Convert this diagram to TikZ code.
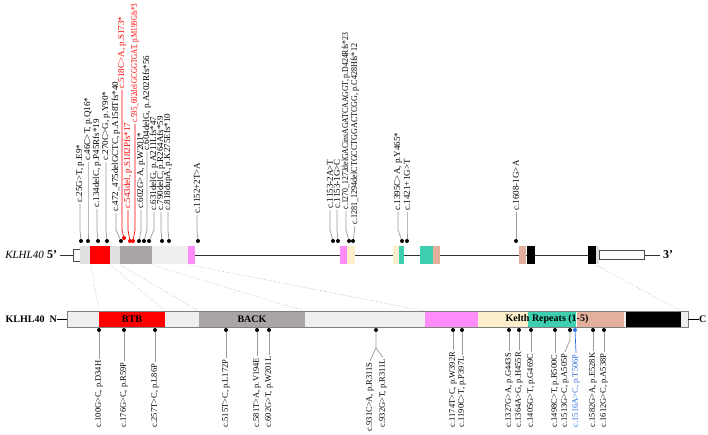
\documentclass[tikz,border=0pt]{standalone}
\usepackage{fontspec}
\setmainfont{Liberation Serif}
\definecolor{backg}{HTML}{A9A5A4}
\definecolor{lightg}{HTML}{EFEFEF}
\definecolor{midg}{HTML}{E0E0E0}
\definecolor{pinkc}{HTML}{FF8CF8}
\definecolor{creamc}{HTML}{FDEFCB}
\definecolor{tealc}{HTML}{3ECFAE}
\definecolor{salmc}{HTML}{E2B09C}
\definecolor{bluec}{HTML}{2F6FE0}
\definecolor{leadg}{HTML}{9A9A9A}
\begin{document}
\begin{tikzpicture}[x=1pt,y=-1pt,
  lab/.style={font=\fontsize{9}{10}\selectfont, rotate=90, anchor=west, inner sep=1.5pt},
  blab/.style={font=\fontsize{8.5}{9}\selectfont, rotate=90, anchor=west, inner sep=1.5pt},
  mdot/.style={circle, fill=black, inner sep=0pt, minimum size=4pt},
  rdot/.style={circle, fill=red, inner sep=0pt, minimum size=4pt},
  lead/.style={draw=leadg, line width=0.7pt},
  rlead/.style={draw=red, line width=0.7pt},
  map/.style={draw=gray!70, dotted, line width=0.6pt}]
\useasboundingbox (0,0) rectangle (708,435);

% ---------- gene structure ----------
\draw[black!80, line width=0.8pt] (60,255) -- (660,255);
\draw[fill=white, draw=black!70] (73,249) rectangle (80,261);
\fill[midg] (80,246) rectangle (90,264);
\fill[red] (90,246) rectangle (110,264);
\fill[midg] (110,246) rectangle (120,264);
\fill[backg] (120,246) rectangle (152,264);
\fill[lightg] (152,246) rectangle (188,264);
\fill[pinkc] (188,246) rectangle (195,264);
\fill[pinkc] (340,246) rectangle (347,264);
\fill[creamc] (347,246) rectangle (355,264);
\fill[creamc] (393,246) rectangle (399,264);
\fill[tealc] (399,246) rectangle (404,264);
\fill[tealc] (420,246) rectangle (433,264);
\fill[salmc] (433,246) rectangle (440,264);
\fill[salmc] (519,246) rectangle (526,264);
\fill[black] (527,246) rectangle (535,264);
\fill[black] (588,246) rectangle (596,264);
\fill[midg] (596,246) rectangle (599,264);
\draw[fill=white, draw=black!70] (599,250) rectangle (644,259);
\node[font=\fontsize{11}{12}\selectfont\itshape, anchor=east, inner sep=0pt] (gname) at (44,255) {KLHL40};
\node[font=\fontsize{12}{13}\selectfont\bfseries, anchor=west, inner sep=0pt] (g5) at (47,255) {5’};
\node[font=\fontsize{12}{13}\selectfont\bfseries, anchor=west, inner sep=0pt] (g3) at (663,255) {3’};

% ---------- protein ----------
\fill[lightg] (67,311) rectangle (688,327);
\fill[red] (99,311) rectangle (165,327);
\fill[backg] (199,311) rectangle (305,327);
\fill[pinkc] (425,311) rectangle (478,327);
\fill[creamc] (478,311) rectangle (528,327);
\fill[tealc] (528,311) rectangle (576,327);
\fill[white] (576,311) rectangle (577,327);
\fill[salmc] (577,311) rectangle (624,327);
\fill[black] (626,311) rectangle (681,327);
\draw[gray, line width=0.8pt] (67,311) rectangle (688,327);
\node[font=\fontsize{10}{12}\selectfont\bfseries] (dBTB) at (132,319.5) {BTB};
\node[font=\fontsize{10}{12}\selectfont\bfseries] (dBACK) at (252,319.5) {BACK};
\node[font=\fontsize{10}{12}\selectfont\bfseries] (dKR) at (547,319.5) {Kelth Repeats (1-5)};
\node[font=\fontsize{10}{12}\selectfont\bfseries, anchor=east, inner sep=0pt] (pname) at (57,319) {KLHL40\hspace{5pt}N};
\node[font=\fontsize{10}{12}\selectfont\bfseries, anchor=west, inner sep=0pt] (pC) at (699,319) {C};
\draw[black, line width=0.8pt] (pname.east) -- (67,319);
\draw[black, line width=0.8pt] (688,319) -- (pC.west);

% ---------- mapping lines ----------
\draw[map] (91,265) -- (99,311);
\draw[map] (110,265) -- (165,311);
\draw[map] (120,265) -- (199,311);
\draw[map] (152,265) -- (305,311);
\draw[map] (190,265) -- (425,311);
\draw[map] (596,265) -- (681,311);

% ---------- top variants ----------
\coordinate (ky) at (0,230);
\node[mdot] (t1d) at (81,241) {};  \node[lab] (t1) at (80,204) {c.25G>T, p.E9*};
\node[mdot] (t2d) at (88,241) {};  \node[lab] (t2) at (88,162) {c.46C>T, p.Q16*};
\node[mdot] (t3d) at (98,241) {};  \node[lab] (t3) at (97,209) {c.134delC, p.P45Rfs*19};
\node[mdot] (t4d) at (107,241) {}; \node[lab] (t4) at (106,162) {c.270C>G, p.Y90*};
\node[mdot] (t5d) at (121,241) {}; \node[lab] (t5) at (116,213) {c.472\_475delGCTC, p.A158Tfs*40};
\node[rdot] (t6d) at (124,238) {}; \node[lab, text=red] (t6) at (122,90) {c.518C>A, p.S173*};
\node[rdot] (t7d) at (130,241) {}; \node[lab, text=red] (t7) at (128,210) {c.543del, p.S182Pfs*17};
\node[rdot] (t8d) at (133,241) {}; \node[lab, text=red] (t8) at (135,124) {\scalebox{0.77}[1]{c.595\_602del GCGGTGAT, p.M199Gfs*3}};
\node[mdot] (t9d) at (139,241) {}; \node[lab] (t9) at (141,210) {c.602G>A, p.W201*};
\node[mdot] (t10d) at (144,241) {}; \node[lab] (t10) at (147,152) {c.604delG, p.A202Rfs*56};
\node[mdot] (t11d) at (149,241) {}; \node[lab] (t11) at (154,212) {c.631delG, p.A211Lfs*47};
\node[mdot] (t12d) at (162,241) {}; \node[lab] (t12) at (161,212) {c.790delC, p.R264Afs*59};
\node[mdot] (t13d) at (169,241) {}; \node[lab] (t13) at (168,212) {c.818dupA, p.K275Efs*10};
\node[mdot] (t14d) at (198,241) {}; \node[lab] (t14) at (197,215) {c.1152+2T>A};
\node[mdot] (t15d) at (333,241) {}; \node[lab] (t15) at (330,210) {c.1153-2A>T};
\node[mdot] (t16d) at (338,241) {}; \node[lab] (t16) at (337,210) {c.1153-1G>C};
\node[mdot] (t17d) at (349,241) {}; \node[lab] (t17) at (346,211) {\scalebox{0.86}[1]{c.1270\_1272delGACinsAGATCAAGGT, p.D424Rfs*23}};
\node[mdot] (t18d) at (353,241) {}; \node[lab] (t18) at (355,226) {\scalebox{0.9}[1]{c.1281\_1294delCTGCCTGGACTCGG, p.C428Hfs*12}};
\node[mdot] (t19d) at (402,241) {}; \node[lab] (t19) at (398,212) {c.1395C>A, p.Y465*};
\node[mdot] (t20d) at (407,241) {}; \node[lab] (t20) at (407,212) {c.1421+1G>T};
\node[mdot] (t21d) at (516,241) {}; \node[lab] (t21) at (516,212) {c.1608-1G>A};

\foreach \i in {1,2,3,4,5,9,10,11,12,13,14,15,16,17,19,20,21}
  \draw[lead] (t\i.west) -- (t\i.west |- ky) -- (t\i d);
\draw[lead] (t18.west) -- (t18d);
\foreach \i in {6,7,8}
  \draw[rlead] (t\i.west) -- (t\i.west |- ky) -- (t\i d);

% ---------- bottom variants ----------
\foreach \n/\x/\t in {1/99/{c.100G>C, p.D34H}, 2/124/{c.176G>C, p.R59P}, 3/155/{c.257T>C, p.L86P},
  4/226/{c.515T>C, p.L172P}, 5/257/{c.581T>A, p.V194E}, 6/269/{c.602G>T, p.W201L},
  9/453/{c.1174T>C, p.W392R}, 10/462/{c.1190C>T, p.P397L}, 11/509/{c.1327G>A, p.G443S},
  12/519/{c.1364A>G, p.H455R}, 13/531/{c.1405G>T, p.G469C}, 14/555/{c.1498C>T, p.R500C},
  17/593/{c.1582G>A, p.E528K}, 18/604/{c.1612G>C, p.A538P}}{
  \node[mdot] (b\n d) at (\x,330) {};
  \node[blab] (b\n) at (\x,429) {\t};
  \draw[lead] (b\n d) -- (b\n.east);
}
\node[mdot] (b7d) at (376,330) {};
\node[blab] (b7) at (370,433) {c.931C>A, p.R311S};
\node[blab] (b8) at (383,429) {c.932G>T, p.R311L};
\coordinate (fork) at (376,348);
\draw[lead] (b7d) -- (fork) -- (b7.east);
\draw[lead] (fork) -- (b8.east);
\node[mdot] (b15d) at (570,330) {};
\node[blab] (b15) at (565,429) {c.1513G>C, p.A505P};
\draw[lead] (b15d) -- (570,340) -- (b15.east);
\node[circle, fill=bluec, inner sep=0pt, minimum size=4pt] (b16d) at (575,330) {};
\node[blab, text=bluec] (b16) at (576,429) {c.1516A>C, p.T506P};
\draw[draw=bluec, line width=0.7pt] (b16d) -- (b16.east);
\end{tikzpicture}
\end{document}
